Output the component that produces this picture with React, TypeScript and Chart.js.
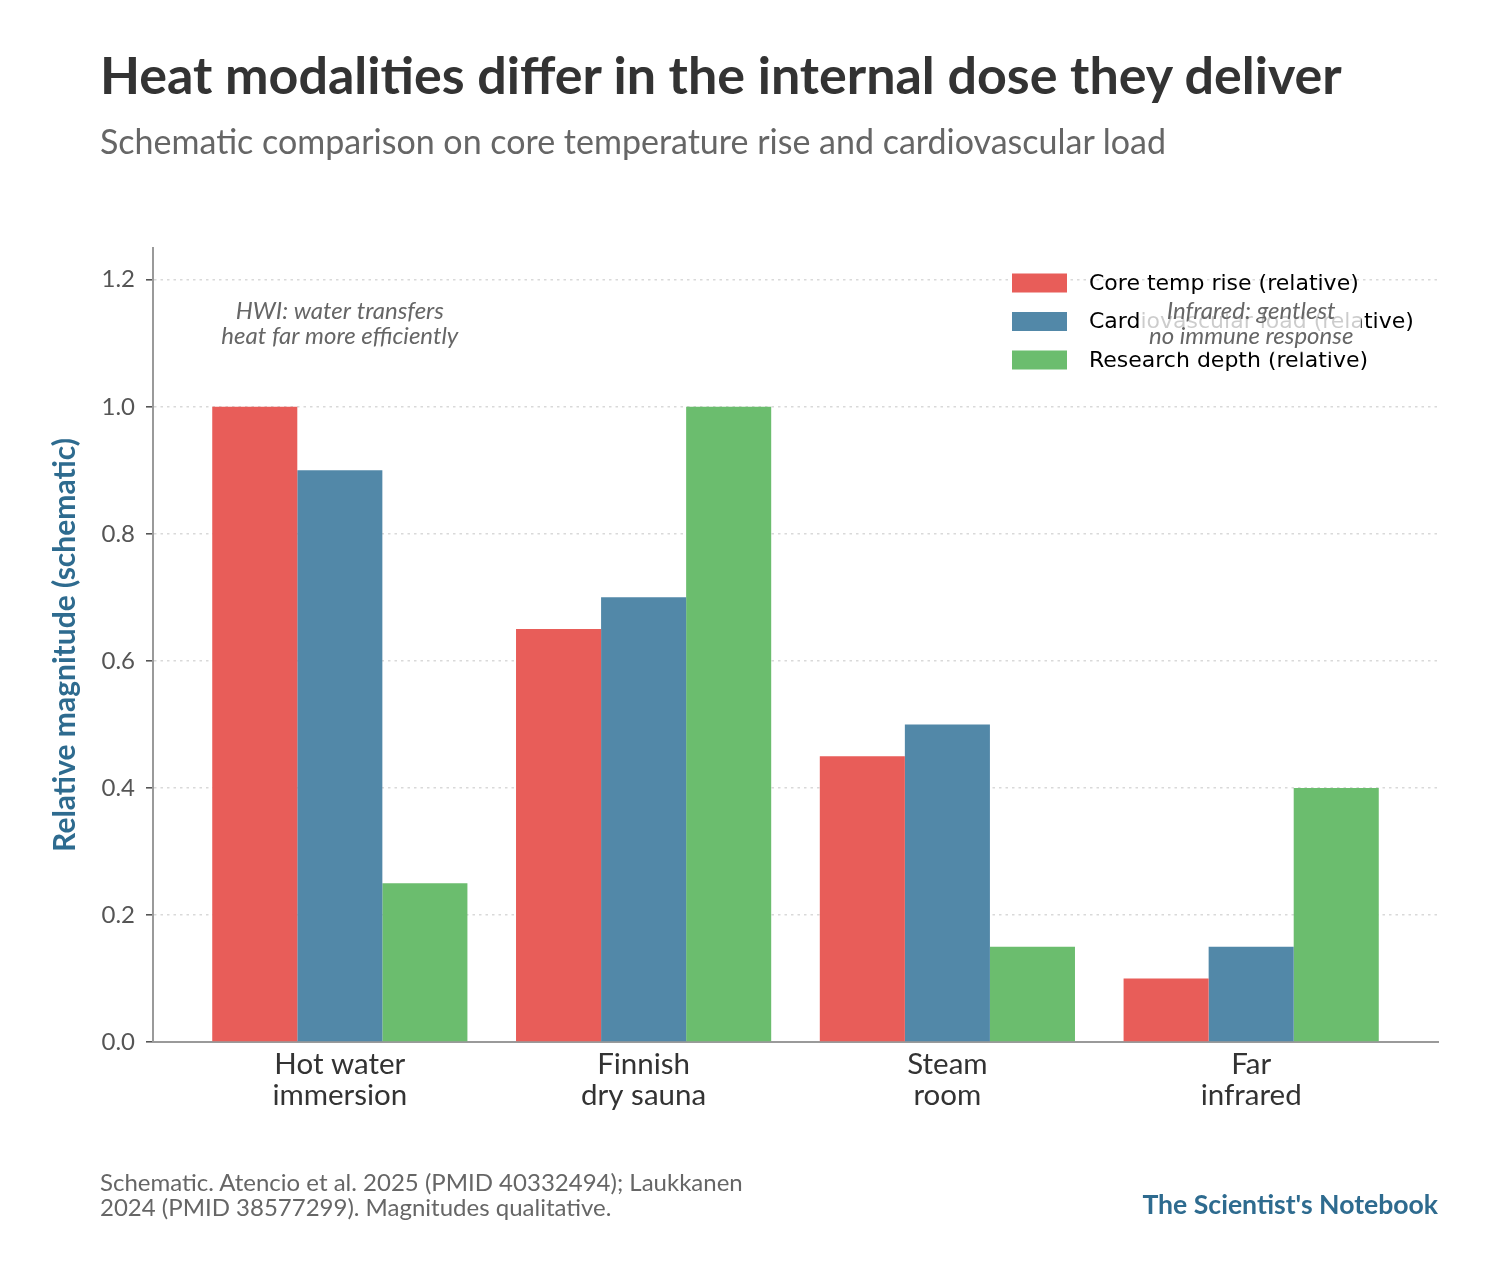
import { useEffect, useRef } from "react";
import { Chart, registerables } from "chart.js";

Chart.register(...registerables);

// categories and values (schematic, relative)
const categories = [["Hot water", "immersion"], ["Finnish", "dry sauna"], ["Steam", "room"], ["Far", "infrared"]];
const seriesNames = ["Core temp rise (relative)", "Cardiovascular load (relative)", "Research depth (relative)"];
const coreTemp = [1.0, 0.65, 0.45, 0.1];
const cardioLoad = [0.9, 0.7, 0.5, 0.15];
const researchDepth = [0.25, 1.0, 0.15, 0.4];
const seriesColors = ["#e85d59", "#5288a8", "#6bbd6e"];
const yTicks = [0, 0.2, 0.4, 0.6, 0.8, 1.0, 1.2];

const notes = [
  { x: 0, y: 1.13, lines: ["HWI: water transfers", "heat far more efficiently"] },
  { x: 3, y: 1.13, lines: ["Infrared: gentlest", "no immune response"] },
];

const FONT = "Lato, 'Open Sans', sans-serif";

const overlayPlugin = {
  id: "overlay",
  afterDraw(chart: any) {
    const { ctx, scales } = chart;
    ctx.save();
    // legend, top right inside plot
    const lx = 1012;
    let ly = 283;
    ctx.font = "22px 'DejaVu Sans'";
    ctx.textBaseline = "middle";
    ctx.textAlign = "left";
    chart.data.datasets.forEach((ds: any) => {
      ctx.fillStyle = ds.backgroundColor;
      ctx.fillRect(lx, ly - 9.5, 55, 19);
      ctx.fillStyle = "#000";
      ctx.fillText(ds.label, lx + 77, ly + 1);
      ly += 38.5;
    });
    // annotations with white semi-transparent box
    ctx.font = `italic 24px ${FONT}`;
    notes.forEach((n) => {
      const cx = scales.x.getPixelForValue(n.x);
      const cy = scales.y.getPixelForValue(n.y);
      const w = Math.max(...n.lines.map((l) => ctx.measureText(l).width));
      ctx.fillStyle = "rgba(255,255,255,0.8)";
      ctx.fillRect(cx - w / 2 - 8, cy - 28, w + 16, 56);
      ctx.fillStyle = "#666";
      ctx.textAlign = "center";
      n.lines.forEach((l, i) => ctx.fillText(l, cx, cy - 12.5 + i * 25));
    });
    ctx.restore();
  },
};

function HeatChart() {
  const chartRef = useRef<HTMLCanvasElement>(null);
  const chartInstance = useRef<Chart | null>(null);

  useEffect(() => {
    if (!chartRef.current) return;
    const ctx = chartRef.current.getContext("2d");
    if (!ctx) return;
    if (chartInstance.current) chartInstance.current.destroy();

    const series = [coreTemp, cardioLoad, researchDepth];

    chartInstance.current = new Chart(ctx, {
      type: "bar",
      data: {
        datasets: series.map((vals, s) => ({
          label: seriesNames[s],
          data: vals.map((v, i) => ({ x: i, y: v })),
          backgroundColor: seriesColors[s],
          borderWidth: 0,
          categoryPercentage: 0.84,
          barPercentage: 1,
        })),
      },
      options: {
        responsive: false,
        animation: false,
        layout: { padding: { left: 0, top: 248, right: 54, bottom: 131 } },
        plugins: {
          legend: { display: false },
          tooltip: { enabled: false },
        },
        scales: {
          x: {
            type: "linear",
            min: -0.615,
            max: 3.615,
            offset: false,
            grid: { display: false, drawTicks: false },
            border: { display: true, color: "#9a9a9a", width: 2 },
            afterBuildTicks: (scale: any) => {
              scale.ticks = categories.map((_, i) => ({ value: i }));
            },
            afterFit: (scale: any) => {
              scale.height = 100;
            },
            ticks: {
              autoSkip: false,
              maxRotation: 0,
              padding: 7,
              color: "#333",
              font: { family: FONT, size: 29.5, lineHeight: 1.05 },
              callback: (v: any) => categories[Math.round(v)] ?? "",
            },
          },
          y: {
            min: 0,
            max: 1.25,
            afterBuildTicks: (scale: any) => {
              scale.ticks = yTicks.map((v) => ({ value: v }));
            },
            afterFit: (scale: any) => {
              scale.width = 153;
            },
            grid: {
              color: "#d9d9d9",
              lineWidth: 1.6,
              drawTicks: true,
              tickLength: 7,
              tickColor: "#555",
              tickWidth: 1.6,
            },
            border: { display: true, color: "#9a9a9a", width: 2, dash: [2.5, 4] },
            ticks: {
              padding: 11,
              color: "#555",
              font: { family: FONT, size: 24 },
              callback: (v: any) => Number(v).toFixed(1),
            },
            title: {
              display: true,
              text: "Relative magnitude (schematic)",
              color: "#2e6b8f",
              font: { family: FONT, size: 30, weight: "bold" },
              padding: { top: 47, bottom: 0 },
            },
          },
        },
      },
      plugins: [overlayPlugin],
    });

    return () => {
      if (chartInstance.current) {
        chartInstance.current.destroy();
        chartInstance.current = null;
      }
    };
  }, []);

  return <canvas ref={chartRef} width={1492} height={1273} style={{ position: "absolute", left: 0, top: 0 }} />;
}

export default function App() {
  const txt = { position: "absolute" as const, margin: 0, fontFamily: FONT, whiteSpace: "nowrap" as const };
  return (
    <div style={{ position: "absolute", left: 0, top: 0, width: 1492, height: 1273, background: "#fff", overflow: "hidden" }}>
      <HeatChart />
      <div style={{ ...txt, left: 100, top: 43, fontSize: 52, fontWeight: 700, color: "#333", lineHeight: "62px" }}>
        Heat modalities differ in the internal dose they deliver
      </div>
      <div style={{ ...txt, left: 100, top: 121, fontSize: 34, color: "#666", lineHeight: "40px" }}>
        Schematic comparison on core temperature rise and cardiovascular load
      </div>
      <div style={{ ...txt, left: 100, top: 1169, fontSize: 24, color: "#666", lineHeight: "25px" }}>
        Schematic. Atencio et al. 2025 (PMID 40332494); Laukkanen
        <br />
        2024 (PMID 38577299). Magnitudes qualitative.
      </div>
      <div style={{ ...txt, right: 54, top: 1188, fontSize: 26.6, fontWeight: 700, color: "#2e6b8f", lineHeight: "32px" }}>
        The Scientist's Notebook
      </div>
    </div>
  );
}
